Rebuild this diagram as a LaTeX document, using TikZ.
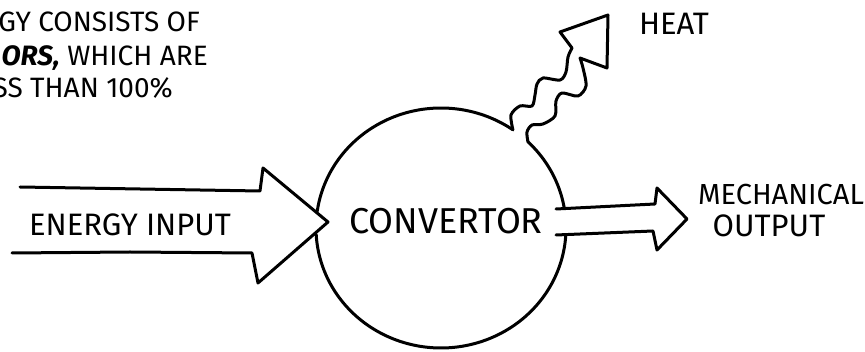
\documentclass[tikz,border=0pt]{standalone}
\usepackage{fontspec}
\setmainfont{Fira Sans}

\begin{document}
\begin{tikzpicture}[x=1pt,y=-1pt,
  ink/.style={line width=3pt,line cap=round,line join=round},
  lbl/.style={font=\fontsize{31}{33}\selectfont,inner sep=0pt,anchor=base},
  note/.style={font=\fontsize{28}{30}\selectfont,inner sep=0pt,anchor=base east}]
  \useasboundingbox (0,0) rectangle (865,352);

  % converter circle, open where the arrows meet it
  \coordinate (c) at (441,228);
  \draw[ink] plot[smooth,domain=-46:-10,samples=20] ({441+125*cos(\x)},{228+120*sin(\x)});
  \draw[ink] plot[smooth,domain=4:177,samples=60] ({441+125*cos(\x)},{228+120*sin(\x)});
  \draw[ink] plot[smooth,domain=188:305,samples=40] ({441+125*cos(\x)},{228+120*sin(\x)});
  \node[lbl,font=\fontsize{36}{38}\selectfont] (conv) at (446,234) {CONVERTOR};

  % energy in
  \draw[ink] (20,187) -- (140,189) -- (260,191) -- (263,168) -- (328,222) -- (258,283) -- (252,253) -- (130,252) -- (12,253);
  \node[lbl] (inlbl) at (130,236) {ENERGY INPUT};

  % work out
  \draw[ink] (556,209) -- (655,204) -- (657,188) -- (687,219) -- (657,250) -- (653,231) -- (556,235);
  \node[lbl,font=\fontsize{29}{31}\selectfont] (mechlbl) at (781,205) {MECHANICAL};
  \node[lbl] (outlbl) at (769,237) {OUTPUT};

  % heat loss
  \draw[ink] plot[smooth] coordinates {(513,130) (511,115) (520,106) (532,106) (535,95) (537,84) (543,78) (560,80) (566,72) (568,57) (572,48)}
    -- (560,32) -- (608,15) -- (607,68) -- (580,58)
    -- plot[smooth] coordinates {(580,58) (583,68) (586,86) (578,96) (562,93) (556,101) (555,116) (543,124) (532,125) (527,132) (528,142)};
  \node[lbl] (heatlbl) at (674,35) {HEAT};

  % caption, cut at the left edge
  \node[note] (note1) at (200,32) {GY CONSISTS OF};
  \node[note] (note2) at (208,66) {\textbf{\textit{ORS,}} WHICH ARE};
  \node[note] (note3) at (173,98) {SS THAN 100\%};
\end{tikzpicture}
\end{document}
